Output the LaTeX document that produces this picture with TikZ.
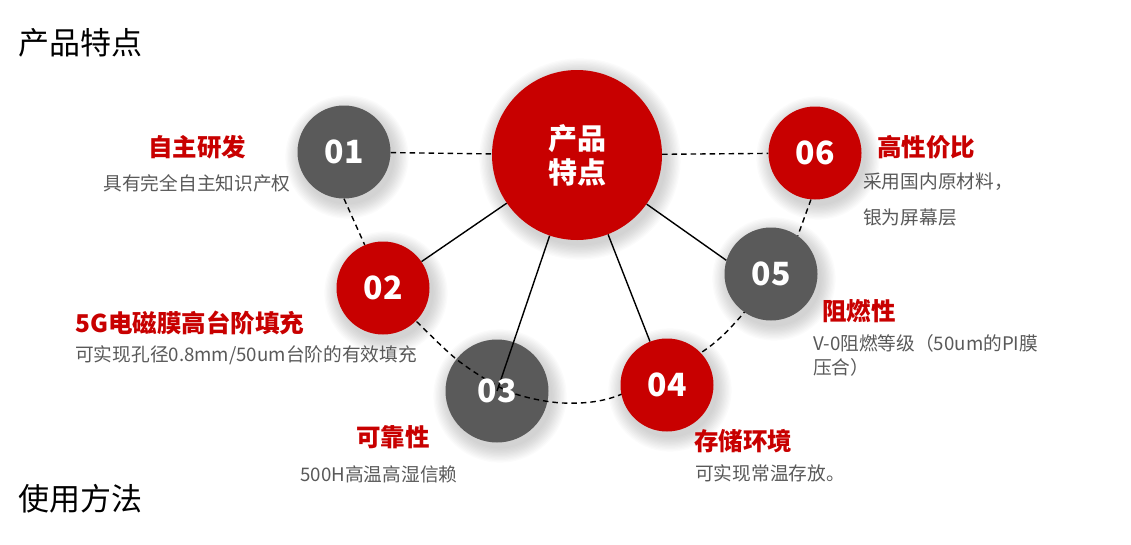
\documentclass[tikz,border=0pt]{standalone}
\usepackage{fontspec}
\setmainfont{Noto Sans CJK SC}
\definecolor{myred}{RGB}{200,0,0}
\definecolor{mygray}{RGB}{90,90,90}
\definecolor{subgray}{RGB}{89,89,89}
\pgfdeclarelayer{shadowlayer}
\pgfdeclarelayer{lowlayer}
\pgfdeclarelayer{linelayer}
\pgfsetlayers{shadowlayer,lowlayer,linelayer,main}
\newcommand\softshadow[3]{\foreach \k in {1,...,12}{\fill[black,opacity=0.016] (#1+3,#2+5) circle ({#3+\k*1.3});}}
\begin{document}
\begin{tikzpicture}[x=1pt,y=-1pt,
  bubble/.style={circle,inner sep=0pt,minimum size=#1,text=white,font=\bfseries\fontsize{32}{32}\selectfont},
  redb/.style={bubble=#1,fill=myred},
  grayb/.style={bubble=#1,fill=mygray},
  numtext/.style={text=white,font=\bfseries\fontsize{32}{32}\selectfont,inner sep=0pt},
  ttl/.style={text=myred,font=\bfseries\fontsize{24.5}{28}\selectfont,inner sep=0pt},
  sub/.style={text=subgray,font=\fontsize{18.7}{22}\selectfont,inner sep=0pt},
  head/.style={text=black,font=\fontsize{31}{34}\selectfont,inner sep=0pt},
  solidline/.style={line width=1.4pt},
  dashline/.style={line width=1.4pt,dash pattern=on 5.5pt off 4pt},
]
\useasboundingbox (0,0) rectangle (1131,544);

% shadows
\begin{pgfonlayer}{shadowlayer}
\softshadow{577}{154}{85}
\softshadow{344}{152}{46}
\softshadow{383}{288}{46}
\softshadow{497}{391}{51}
\softshadow{667}{385}{46}
\softshadow{771}{274}{46}
\softshadow{815}{153}{46}
\end{pgfonlayer}

% circle 03 lies under the connectors
\begin{pgfonlayer}{lowlayer}
\node[grayb=103pt] (n3) at (497,391) {};
\end{pgfonlayer}

% circles
\node[redb=170pt,font=\bfseries\fontsize{29}{34}\selectfont,align=center] (c) at (577,155) {产品\\特点};
\node[grayb=93pt] (n1) at (344,152) {01};
\node[redb=93pt] (n2) at (383,288) {02};
\node[redb=93pt] (n4) at (667,385) {04};
\node[grayb=93pt] (n5) at (771,274) {05};
\node[redb=93pt] (n6) at (815,153) {06};
\node[numtext] at (n3) {03};

% connectors
\begin{pgfonlayer}{linelayer}
\draw[dashline] (n1) -- (c);
\draw[dashline] (c) -- (n6);
\draw[dashline] (n1.south) -- (n2.113);
\draw[dashline] (n6.265) -- (n5.55);
\draw[solidline] (c) -- (n2);
\draw[solidline] (c) -- (n3.center);
\draw[solidline] (c) -- (n4);
\draw[solidline] (c) -- (n5.163);
\draw[dashline] plot[smooth] coordinates {(n2.center) (417,322) (460,362) (510,392) (563,403) (617,396) (702,352) (742,315) (n5.center)};
\end{pgfonlayer}

% headings
\node[head,anchor=west] (h1) at (18,43) {产品特点};
\node[head,anchor=west] (h2) at (18,499) {使用方法};

% labels
\node[ttl] (t1) at (197,147) {自主研发};
\node[sub] (s1) at (197,183) {具有完全自主知识产权};

\node[ttl,anchor=west] (t2) at (75,323) {5G电磁膜高台阶填充};
\node[sub,anchor=west] (s2) at (75,355) {可实现孔径0.8mm/50um台阶的有效填充};

\node[ttl] (t3) at (393,437) {可靠性};
\node[sub] (s3) at (379,474) {500H高温高湿信赖};

\node[ttl,anchor=west] (t4) at (694,441) {存储环境};
\node[sub,anchor=west] (s4) at (695,473) {可实现常温存放。};

\node[ttl,anchor=west] (t5) at (822,311) {阻燃性};
\node[sub,anchor=west] (s5) at (813,343) {V-0阻燃等级（50um的PI膜};
\node[sub,anchor=west] (s5b) at (813,367) {压合）};

\node[ttl,anchor=west] (t6) at (877,147) {高性价比};
\node[sub,anchor=west] (s6) at (863,182) {采用国内原材料，};
\node[sub,anchor=west] (s6b) at (863,217) {银为屏幕层};
\end{tikzpicture}
\end{document}
